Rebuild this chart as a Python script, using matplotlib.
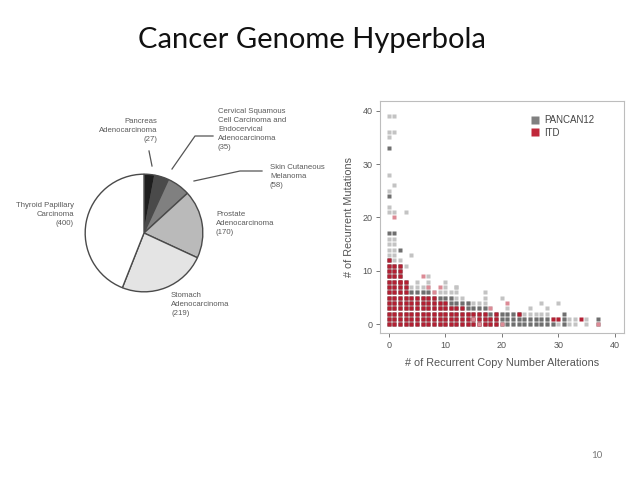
import matplotlib
matplotlib.use("Agg")
import matplotlib.pyplot as plt
from matplotlib.lines import Line2D

# ---------------- data ----------------
pie_labels = ["Pancreas\nAdenocarcinoma\n(27)",
              "Cervical Squamous\nCell Carcinoma and\nEndocervical\nAdenocarcinoma\n(35)",
              "Skin Cutaneous\nMelanoma\n(58)",
              "Prostate\nAdenocarcinoma\n(170)",
              "Stomach\nAdenocarcinoma\n(219)",
              "Thyroid Papillary\nCarcinoma\n(400)"]
pie_values = [27, 35, 58, 170, 219, 400]
pie_colors = ["#1e1e1e", "#4a4a4a", "#808080", "#bababa", "#e4e4e4", "#ffffff"]

# per-column stacks (x = # recurrent CNAs); -1 means none
cols = list(range(38))
itd_top =       [12, 11, 11, 8, 5, 5, 5, 5, 5, 4, 4, 3, 3, 3, 2, 2, 2, 1, 1, 1,
                 -1, -1, -1, -1, -1, -1, -1, -1, -1, -1, -1, -1, -1, -1, -1, -1, -1, -1]
pan_dense_top = [12, 11, 11, 8, 6, 6, 6, 6, 5, 5, 5, 5, 4, 4, 4, 3, 3, 3, 2, 2,
                 2, 2, 2, 2, 1, 1, 1, 1, 1, 0, -1, 2, -1, -1, -1, -1, -1, 1]
pan_light_top = [16, 16, 12, 8, 7, 8, 7, 8, 6, 6, 8, 6, 7, 5, 4, 4, 4, 6, 3, 2,
                 2, 3, 2, 2, 2, 3, 2, 2, 3, 1, 1, 1, 1, 1, -1, 1, -1, -1]

# isolated cells
pan_light_x = [0, 0, 0, 0, 0, 0, 0, 1, 1, 1, 1, 3, 3, 4, 7, 20, 27, 30, 12]
pan_light_y = [21, 22, 25, 28, 35, 36, 39, 21, 26, 36, 39, 11, 21, 13, 9, 5, 4, 4, 7]
pan_dark_x = [0, 0, 0, 1, 2]
pan_dark_y = [17, 24, 33, 17, 14]
itd_light_x = [1, 6, 7, 8, 9, 18, 20, 21, 37, 16, 15]
itd_light_y = [20, 9, 7, 6, 7, 3, 0, 4, 0, 0, 1]
itd_dark_x = [2, 23, 29, 30, 34, 17, 19]
itd_dark_y = [8, 2, 1, 1, 1, 2, 2]

x_ticks = [0, 10, 20, 30, 40]
y_ticks = [0, 10, 20, 30, 40]

# ---------------- figure ----------------
W, H = 638, 479
fig = plt.figure(figsize=(W / 100, H / 100), dpi=100)
fig.patch.set_facecolor("white")
plt.rcParams['font.family'] = ['Liberation Sans', 'DejaVu Sans']


def fx(x):
    return x / W


def fy(y):
    return 1 - y / H


fig.text(fx(312), fy(40), "Cancer Genome Hyperbola", ha="center", va="center",
         fontsize=21, color="#111111", family=["Lato", "DejaVu Sans"])
fig.text(fx(597), fy(456), "10", ha="center", va="center", fontsize=7,
         color="#777777", family=["Lato", "DejaVu Sans"])

# ---- pie ----
cx, cy, r = 144, 233, 60
axp = fig.add_axes([fx(cx - r), fy(cy + r), 2 * r / W, 2 * r / H])
axp.pie(pie_values, colors=pie_colors, startangle=90, counterclock=False,
        wedgeprops=dict(edgecolor="#4a4a4a", linewidth=1.0))
axp.set_xlim(-1.02, 1.02)
axp.set_ylim(-1.02, 1.02)
axp.set_aspect("auto")
axp.axis("off")

lab_col = "#5a5a5a"
lab_fs = 5.6
lab_pos = [(157, 118, "right"), (218, 108, "left"), (270, 164, "left"),
           (216, 211, "left"), (171, 292, "left"), (74, 202, "right")]
for (lx, ly, ha), txt in zip(lab_pos, pie_labels):
    fig.text(fx(lx), fy(ly), txt, ha=ha, va="top", fontsize=lab_fs,
             color=lab_col, linespacing=1.4)

leaders = [[(149, 151), (152, 166)],
           [(172, 169), (195, 136), (213, 136)],
           [(194, 181), (240, 171), (262, 171)]]
for pts in leaders:
    fig.add_artist(Line2D([fx(p[0]) for p in pts], [fy(p[1]) for p in pts],
                          color="#555555", lw=0.9, transform=fig.transFigure))

# ---- scatter ----
ax = fig.add_axes([fx(380), fy(333), (624 - 380) / W, (333 - 101) / H])
ms = 3.2
c_pl, c_pd, c_rl, c_rd = "#c3c3c3", "#6f6f6f", "#dc8a95", "#b31f32"


def stack(tops):
    xs, ys = [], []
    for x, t in zip(cols, tops):
        for y in range(0, t + 1):
            xs.append(x)
            ys.append(y)
    return xs, ys


for tops, c in [(pan_light_top, c_pl), (pan_dense_top, c_pd)]:
    xs, ys = stack(tops)
    ax.plot(xs, ys, "s", color=c, ms=ms, mec="none")
ax.plot(pan_light_x, pan_light_y, "s", color=c_pl, ms=ms, mec="none")
ax.plot(pan_dark_x, pan_dark_y, "s", color=c_pd, ms=ms, mec="none")
xs, ys = stack(itd_top)
ax.plot(xs, ys, "s", color=c_rd, ms=ms, mec="none")
ax.plot(itd_dark_x, itd_dark_y, "s", color=c_rd, ms=ms, mec="none")
ax.plot(itd_light_x, itd_light_y, "s", color=c_rl, ms=ms, mec="none")

ax.set_xlim(-1.54, 41.65)
ax.set_ylim(-1.63, 41.8)
ax.set_xticks(x_ticks)
ax.set_yticks(y_ticks)
for s in ax.spines.values():
    s.set_color("#bdbdbd")
    s.set_linewidth(0.8)
ax.tick_params(colors="#777777", labelcolor="#555555", labelsize=6.5,
               length=3, width=0.7, pad=2.5)
ax.set_xlabel("# of Recurrent Copy Number Alterations", fontsize=7.8,
              color="#555555", labelpad=6)
ax.set_ylabel("# of Recurrent Mutations", fontsize=7.8, color="#555555",
              labelpad=6)

handles = [Line2D([], [], ls="none", marker="s", ms=6, color="#808080", mec="none"),
           Line2D([], [], ls="none", marker="s", ms=6, color="#c0283a", mec="none")]
ax.legend(handles, ["PANCAN12", "ITD"], loc="upper left",
          bbox_to_anchor=(0.6, 0.955), frameon=False, fontsize=7,
          handlelength=0.9, handletextpad=0.5, labelspacing=0.25,
          borderaxespad=0, labelcolor="#444444")

fig.savefig("out.png", dpi=100, facecolor="white")
